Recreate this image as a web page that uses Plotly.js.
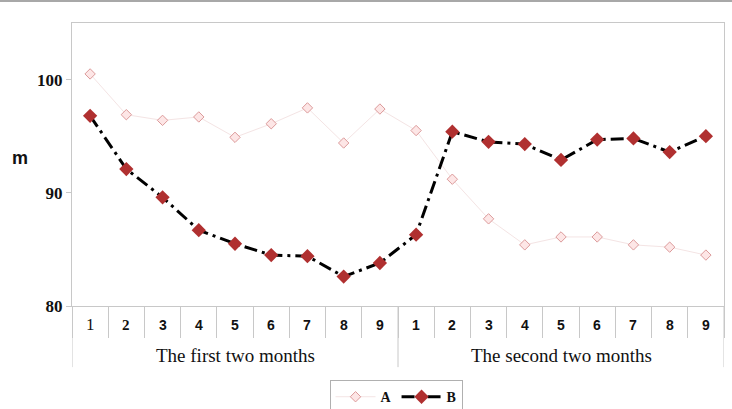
<!DOCTYPE html>
<html>
<head>
<meta charset="utf-8">
<script src="https://cdn.plot.ly/plotly-3.0.1.min.js"></script>
<style>
  html, body { margin: 0; padding: 0; background: #fff; }
  #chart { width: 732px; height: 409px; }
</style>
</head>
<body>
<div id="chart"></div>
<script>
var groups = ['The first two months', 'The second two months'];
var subLabels = ['1', '2', '3', '4', '5', '6', '7', '8', '9'];
var seriesA = [100.5, 96.9, 96.4, 96.7, 94.9, 96.1, 97.5, 94.4, 97.4,
               95.5, 91.2, 87.7, 85.4, 86.1, 86.1, 85.4, 85.2, 84.5];
var seriesB = [96.8, 92.1, 89.6, 86.7, 85.5, 84.5, 84.4, 82.6, 83.8,
               86.3, 95.4, 94.5, 94.3, 92.9, 94.7, 94.8, 93.6, 95.0];
var yTicks = [80, 90, 100];

// x positions 0..17, one per category
var xs = seriesA.map(function(v, i) { return i; });
var n = xs.length;
var per = subLabels.length;

var traceA = {
  x: xs, y: seriesA, name: 'A', type: 'scatter', mode: 'lines+markers',
  line: { color: '#f4e4e4', width: 1 },
  marker: { symbol: 'diamond', size: 8, color: '#fde6e6', line: { color: '#dc9a9a', width: 1 } }
};
var traceB = {
  x: xs, y: seriesB, name: 'B', type: 'scatter', mode: 'lines+markers',
  line: { color: '#000', width: 3, dash: '13px,5px,3px,5px' },
  marker: { symbol: 'diamond', size: 11, color: '#b03030' }
};

var boundaries = [];
for (var i = 0; i <= n; i++) boundaries.push(i - 0.5);

var annotations = [];
xs.forEach(function(x, i) {
  var k = i % per;
  var font;
  if (i === 0) font = { family: 'Liberation Serif', size: 17, color: '#111' };
  else if (i === 1) font = { family: 'Liberation Serif', size: 15, color: '#111', weight: 'bold' };
  else font = { family: 'Liberation Sans', size: 14, color: '#111', weight: 'bold' };
  annotations.push({
    x: x, xref: 'x', y: -0.067, yref: 'paper', text: subLabels[k],
    showarrow: false, xanchor: 'center', yanchor: 'middle', font: font
  });
});
groups.forEach(function(g, j) {
  annotations.push({
    x: j * per + (per - 1) / 2, xref: 'x', y: -0.175, yref: 'paper', text: g,
    showarrow: false, xanchor: 'center', yanchor: 'middle',
    font: { family: 'Liberation Serif', size: 19, color: '#111' }
  });
});
annotations.push({
  x: -0.08, xref: 'paper', xanchor: 'center', y: 0.523, yref: 'paper', text: 'm', showarrow: false,
  font: { family: 'Liberation Sans', size: 18, color: '#111', weight: 'bold' }
});

var shapes = [];
for (var j = 0; j <= groups.length; j++) {
  shapes.push({
    type: 'line', xref: 'x', yref: 'paper', x0: j * per - 0.5, x1: j * per - 0.5,
    y0: 0, y1: -0.216, line: { color: '#c8c8c8', width: 1 }
  });
}
shapes.push({
  type: 'line', xref: 'paper', yref: 'paper', x0: -0.12, x1: 1.02, y0: 1.078, y1: 1.078,
  line: { color: '#a8a8a8', width: 2 }
});

var layout = {
  width: 732, height: 409,
  margin: { l: 72, r: 8, t: 23, b: 103, autoexpand: false },
  paper_bgcolor: '#fff', plot_bgcolor: '#fff',
  showlegend: true,
  legend: {
    orientation: 'h', x: 0.497, xanchor: 'center', y: -0.262, yanchor: 'top',
    bordercolor: '#b0b0b0', borderwidth: 1, itemwidth: 40,
    font: { family: 'Liberation Serif', size: 14, color: '#111', weight: 'bold' },
    tracegroupgap: 0
  },
  xaxis: {
    range: [-0.5, n - 0.5], showgrid: false, zeroline: false,
    showline: true, linecolor: '#c8c8c8', linewidth: 1, mirror: true,
    tickmode: 'array', tickvals: boundaries, ticks: 'outside', ticklen: 31,
    tickcolor: '#c8c8c8', tickwidth: 1, showticklabels: false
  },
  yaxis: {
    range: [80, 105], showgrid: false, zeroline: false,
    showline: true, linecolor: '#c8c8c8', linewidth: 1, mirror: true,
    tickmode: 'array', tickvals: yTicks, ticks: 'outside', ticklen: 5,
    tickcolor: '#c8c8c8',
    tickfont: { family: 'Liberation Serif', size: 17, color: '#111', weight: 'bold' }
  },
  annotations: annotations,
  shapes: shapes
};

Plotly.newPlot('chart', [traceA, traceB], layout, { displayModeBar: false, staticPlot: true });
</script>
</body>
</html>
